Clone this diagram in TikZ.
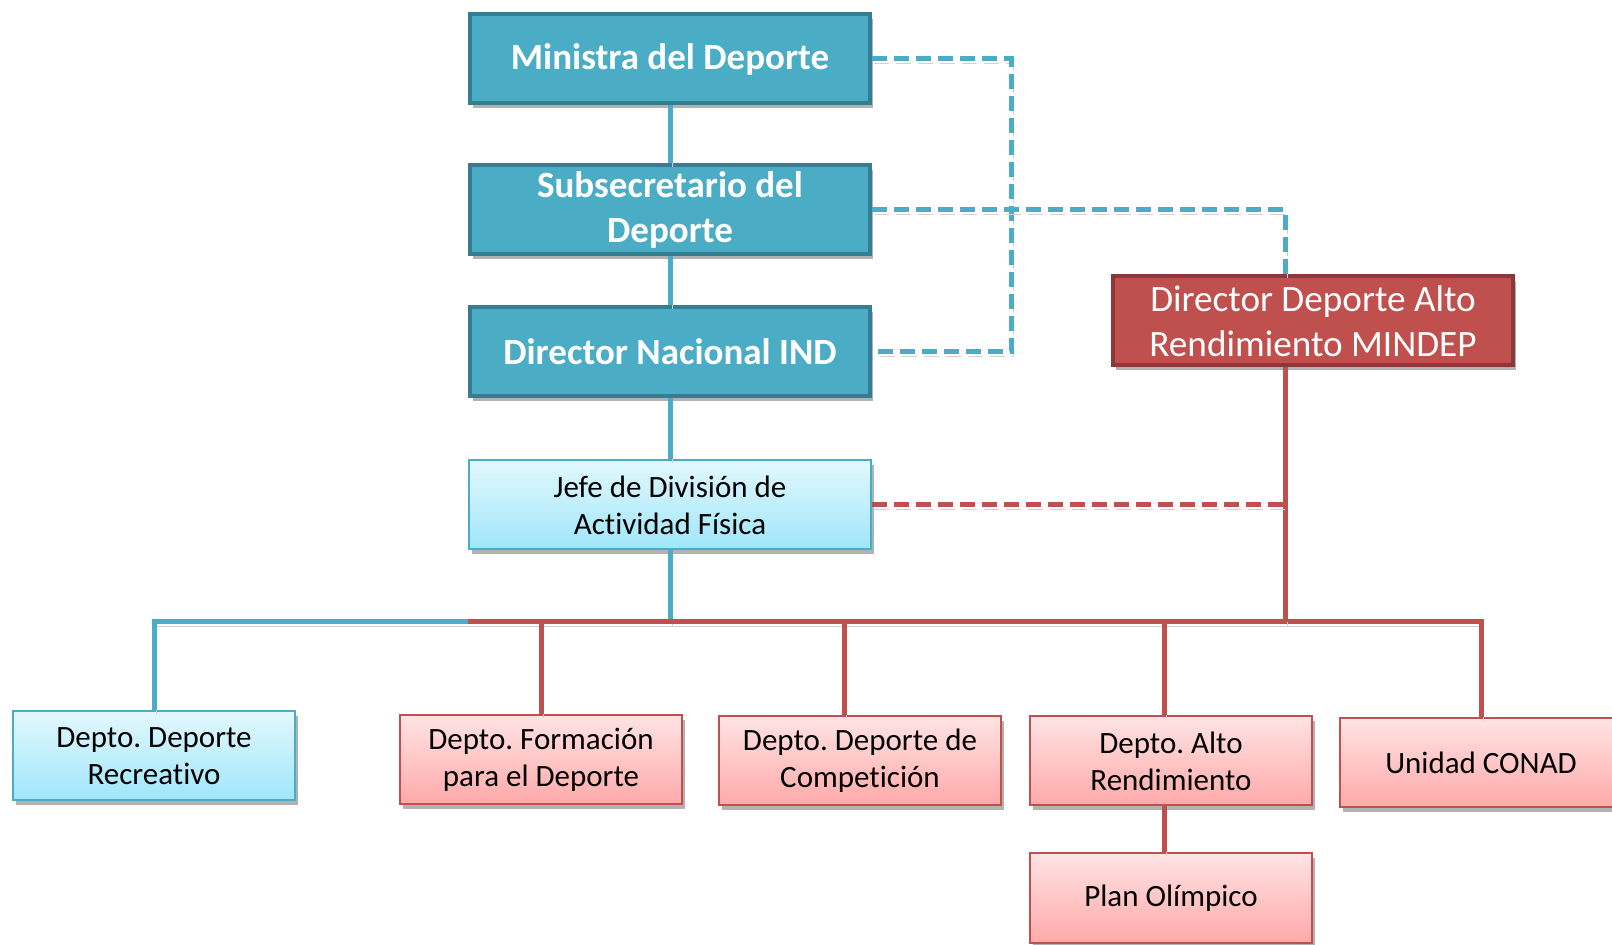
\documentclass[tikz,border=0pt]{standalone}
\usepackage{fontspec}
\setmainfont[Ligatures=NoCommon]{Carlito}
\frenchspacing
\usetikzlibrary{shadows}

\definecolor{azul}{HTML}{4BACC6}
\definecolor{azulborde}{HTML}{357D91}
\definecolor{rojo}{HTML}{C0504D}
\definecolor{rojoborde}{HTML}{8C3836}
\definecolor{celesteA}{HTML}{E2F8FE}
\definecolor{celesteB}{HTML}{9FE6FA}
\definecolor{rosaA}{HTML}{FFE3E3}
\definecolor{rosaB}{HTML}{FFA9A9}

\tikzset{
  sombra/.style={drop shadow={shadow xshift=1.5pt,shadow yshift=-2.5pt,opacity=.3,fill=black}},
  jefatura/.style={shape=rectangle,draw=azulborde,line width=2pt,fill=azul,text=white,
    font=\fontsize{18.5}{22.5}\selectfont\bfseries,align=center,
    minimum width=200pt,minimum height=44.5pt,inner sep=0pt,sombra},
  alto/.style={jefatura,draw=rojoborde,fill=rojo,font=\fontsize{18.6}{22.5}\selectfont},
  division/.style={shape=rectangle,draw=azul,line width=1pt,top color=celesteA,bottom color=celesteB,
    font=\fontsize{15.5}{18.5}\selectfont,align=center,
    minimum width=201pt,minimum height=44.5pt,inner sep=0pt,sombra},
  depto/.style={division,minimum width=141pt},
  deptorojo/.style={depto,draw=rojo,top color=rosaA,bottom color=rosaB},
  linea/.style={line width=2.5pt,preaction={draw=black!18,transform canvas={xshift=1pt,yshift=-2pt}}},
  lineaazul/.style={linea,draw=azul},
  linearoja/.style={linea,draw=rojo},
  trazo/.style={line width=2.5pt,dash pattern=on 7.5pt off 3.5pt,
    preaction={draw=black!18,dash pattern=on 7.5pt off 3.5pt,transform canvas={xshift=1pt,yshift=-2pt}}}
}

\begin{document}
\begin{tikzpicture}[x=0.5pt,y=-0.5pt]
\clip (0,0) rectangle (1612,945);
\fill[white] (0,0) rectangle (1612,945);

% points
\path (670,59)   node[jefatura] (Ministra) {Ministra del Deporte};
\path (670,210)  node[jefatura] (Subsecretario) {Subsecretario del\\Deporte};
\path (670,352)  node[jefatura] (DirectorIND) {Director Nacional IND};
\path (1313,321) node[alto] (DirectorAR) {Director Deporte Alto\\Rendimiento MINDEP};
\path (670,505)  node[division] (Jefe) {Jefe de División de\\Actividad Física};

\path (154,756)  node[depto] (Recreativo) {Depto. Deporte\\Recreativo};
\path (541,760)  node[deptorojo] (Formacion) {Depto. Formación\\para el Deporte};
\path (860,761)  node[deptorojo] (Competicion) {Depto. Deporte de\\Competición};
\path (1171,761) node[deptorojo] (AltoRend) {Depto. Alto\\Rendimiento};
\path (1481,763) node[deptorojo] (CONAD) {Unidad CONAD};
\path (1171,898) node[deptorojo] (Olimpico) {Plan Olímpico};

\coordinate (bus) at (0,622);
\coordinate (lazo) at (1011,0);
\coordinate (eje) at (1285,0);

% edges
\draw[lineaazul] (Ministra) -- (Subsecretario);
\draw[lineaazul] (Subsecretario) -- (DirectorIND);
\draw[lineaazul] (DirectorIND) -- (Jefe);
\draw[lineaazul] (Jefe.south) -- (Jefe.south |- bus);
\draw[lineaazul] (Recreativo.north) |- (Jefe.south west |- bus);

\draw[linearoja] (Jefe.south west |- bus) -| (CONAD.north);
\draw[linearoja] (eje |- DirectorAR.south) -- (eje |- bus);
\draw[linearoja] (Formacion.north |- bus) -- (Formacion.north);
\draw[linearoja] ([xshift=-8pt]Competicion.north |- bus) -- ([xshift=-8pt]Competicion.north);
\draw[linearoja] ([xshift=-3.5pt]AltoRend.north |- bus) -- ([xshift=-3.5pt]AltoRend.north);
\draw[linearoja] ([xshift=-3.5pt]AltoRend.south) -- ([xshift=-3.5pt]Olimpico.north);

\draw[trazo,azul] (Ministra.east) -| (lazo |- DirectorIND.east) -- (DirectorIND.east);
\draw[trazo,azul] (Subsecretario.east) -| (eje |- DirectorAR.north);
\draw[trazo,rojo] (Jefe.east) -- (eje |- Jefe.east);

\end{tikzpicture}
\end{document}
